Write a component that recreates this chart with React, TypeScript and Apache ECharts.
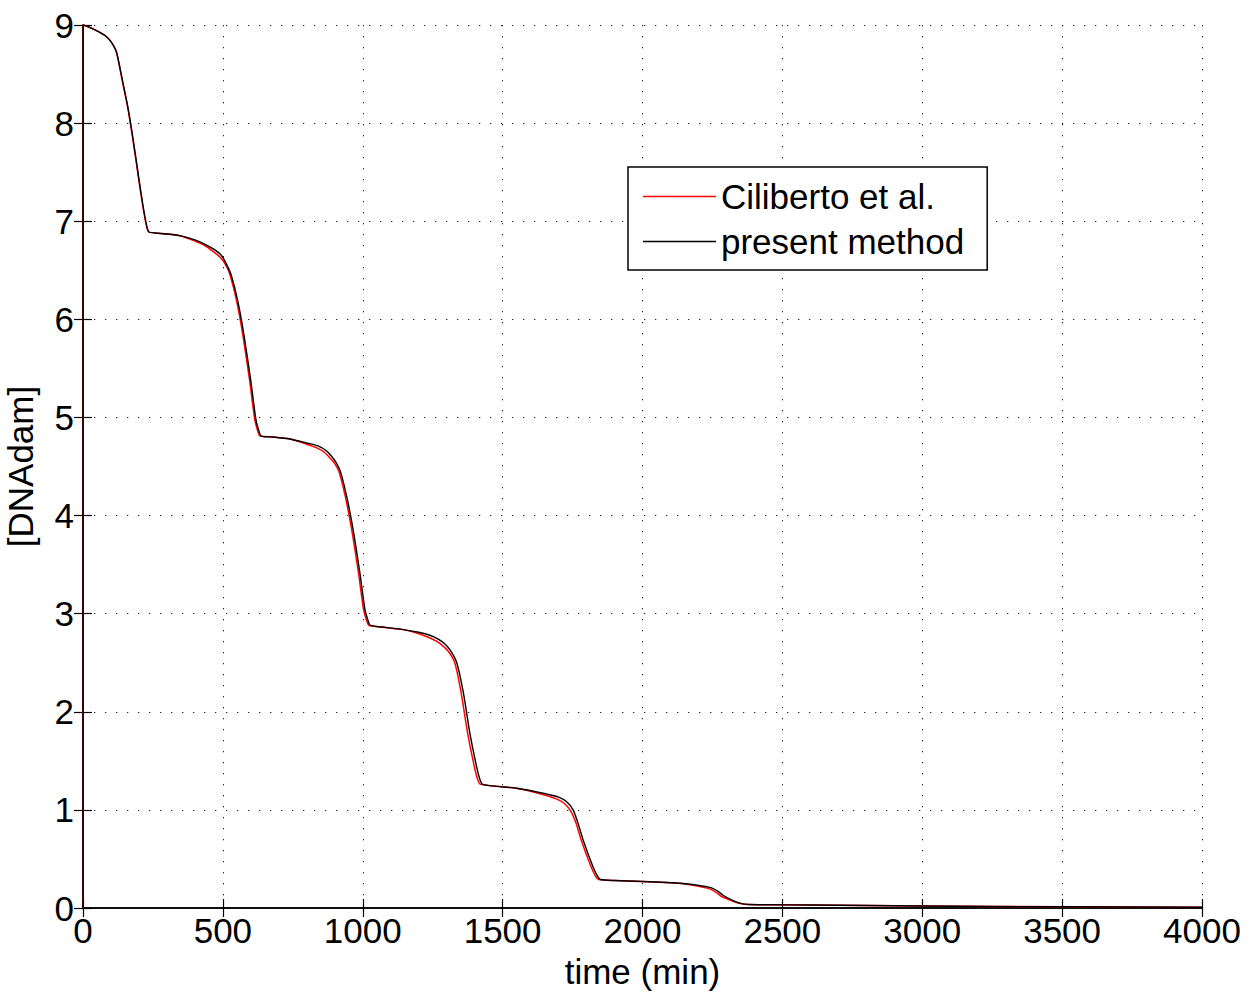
import React, { useEffect, useRef } from "react";
import * as echarts from "echarts";

const xTicks = [0, 500, 1000, 1500, 2000, 2500, 3000, 3500, 4000];
const yTicks = [0, 1, 2, 3, 4, 5, 6, 7, 8, 9];

const presentTime = [0, 1, 20, 50, 80, 100, 120, 140, 160, 180, 200, 215, 228, 236, 260, 300, 350, 400, 440, 470, 495, 515, 530, 553, 576, 600, 618, 630, 637, 680, 740, 800, 840, 870, 890, 905, 920, 943, 966, 990, 1008, 1020, 1027, 1080, 1140, 1200, 1240, 1270, 1290, 1312, 1336, 1360, 1383, 1407, 1420, 1429, 1480, 1550, 1645, 1700, 1730, 1752, 1770, 1788, 1823, 1840, 1850, 1900, 2000, 2145, 2241, 2270, 2288, 2320, 2348, 2380, 2456, 2600, 3000, 3500, 4000];
const presentValue = [0, 9, 8.98, 8.94, 8.89, 8.83, 8.72, 8.45, 8.17, 7.82, 7.43, 7.15, 6.95, 6.89, 6.88, 6.87, 6.85, 6.81, 6.76, 6.71, 6.65, 6.55, 6.45, 6.19, 5.83, 5.37, 4.98, 4.85, 4.81, 4.8, 4.78, 4.74, 4.71, 4.66, 4.6, 4.54, 4.45, 4.19, 3.85, 3.41, 3.04, 2.92, 2.88, 2.86, 2.84, 2.81, 2.78, 2.74, 2.7, 2.63, 2.5, 2.19, 1.78, 1.44, 1.3, 1.26, 1.24, 1.22, 1.17, 1.13, 1.08, 1.0, 0.86, 0.69, 0.42, 0.32, 0.29, 0.28, 0.27, 0.25, 0.21, 0.17, 0.13, 0.08, 0.05, 0.035, 0.033, 0.03, 0.02, 0.012, 0.008];

const cilibertoTime = [0, 1, 20, 50, 80, 100, 120, 139, 159, 179, 199, 214, 227, 235, 260, 300, 350, 398, 437, 466, 491, 511, 526, 549, 572, 596, 614, 626, 633, 680, 740, 797, 836, 865, 885, 900, 915, 938, 961, 985, 1003, 1015, 1022, 1080, 1140, 1196, 1234, 1263, 1283, 1305, 1329, 1352, 1375, 1399, 1412, 1421, 1480, 1550, 1640, 1694, 1723, 1745, 1763, 1781, 1816, 1833, 1843, 1900, 2000, 2140, 2235, 2263, 2281, 2313, 2341, 2375, 2456, 2600, 3000, 3500, 4000];
const cilibertoValue = [0, 9, 8.98, 8.94, 8.89, 8.83, 8.72, 8.45, 8.17, 7.82, 7.43, 7.15, 6.95, 6.89, 6.88, 6.87, 6.85, 6.8, 6.75, 6.69, 6.63, 6.55, 6.45, 6.19, 5.83, 5.37, 4.98, 4.85, 4.81, 4.8, 4.78, 4.73, 4.69, 4.64, 4.58, 4.53, 4.45, 4.19, 3.85, 3.41, 3.04, 2.92, 2.88, 2.86, 2.84, 2.8, 2.76, 2.72, 2.68, 2.62, 2.5, 2.19, 1.78, 1.44, 1.3, 1.26, 1.24, 1.22, 1.16, 1.11, 1.06, 0.98, 0.86, 0.69, 0.42, 0.32, 0.29, 0.28, 0.27, 0.25, 0.2, 0.16, 0.12, 0.08, 0.05, 0.035, 0.033, 0.03, 0.02, 0.012, 0.008];

const seriesNames = ["Ciliberto et al.", "present method"];

const FONT = "Liberation Sans, Arial, Helvetica, sans-serif";

export default function App() {
  const ref = useRef<HTMLDivElement>(null);
  useEffect(() => {
    document.body.style.margin = "0";
    const chart = echarts.init(ref.current!, null, { renderer: "svg" });
    const zip = (t: number[], v: number[]) => t.map((x, i) => [x, v[i]]);
    const axisLine = { show: true, lineStyle: { color: "#000", width: 1.5 } };
    const tick = { show: true, inside: true, length: 9, lineStyle: { color: "#000", width: 1.2 } };
    const grid = { show: true, lineStyle: { color: "#222", width: 1, type: [1.3, 9.7] } };
    const plain = (v: number) => String(v);
    chart.setOption({
      animation: false,
      backgroundColor: "#fff",
      textStyle: { fontFamily: FONT },
      grid: { left: 83, right: 47, top: 25, bottom: 96, containLabel: false, outerBoundsMode: "none" },
      legend: {
        orient: "vertical",
        left: 628,
        top: 167,
        padding: [12, 23, 11, 15],
        itemGap: 10,
        itemWidth: 73,
        itemHeight: 1.5,
        itemTextGap: 15,
        icon: "rect",
        backgroundColor: "#fff",
        borderColor: "#000",
        borderWidth: 1.5,
        textStyle: { fontSize: 35, color: "#000", fontFamily: FONT, lineHeight: 34 },
        data: seriesNames,
      },
      xAxis: [
        {
          type: "value",
          min: xTicks[0],
          max: xTicks[xTicks.length - 1],
          interval: 500,
          name: "time (min)",
          nameLocation: "middle",
          nameGap: 46,
          nameTextStyle: { fontSize: 35, color: "#000", fontFamily: FONT },
          axisLine,
          axisTick: tick,
          axisLabel: { fontSize: 35, color: "#000", margin: 5, fontFamily: FONT, formatter: plain },
          splitLine: grid,
        },
        {
          type: "value",
          position: "top",
          min: xTicks[0],
          max: xTicks[xTicks.length - 1],
          interval: 500,
          axisLine,
          axisTick: tick,
          axisLabel: { show: false },
          splitLine: { show: false },
        },
      ],
      yAxis: [
        {
          type: "value",
          min: yTicks[0],
          max: yTicks[yTicks.length - 1],
          interval: 1,
          name: "[DNAdam]",
          nameLocation: "middle",
          nameGap: 45,
          nameTextStyle: { fontSize: 35, color: "#000", fontFamily: FONT },
          axisLine,
          axisTick: tick,
          axisLabel: { fontSize: 35, color: "#000", margin: 9, fontFamily: FONT, formatter: plain },
          splitLine: grid,
        },
        {
          type: "value",
          position: "right",
          min: yTicks[0],
          max: yTicks[yTicks.length - 1],
          interval: 1,
          axisLine,
          axisTick: tick,
          axisLabel: { show: false },
          splitLine: { show: false },
        },
      ],
      series: [
        {
          name: seriesNames[0],
          type: "line",
          data: zip(cilibertoTime, cilibertoValue),
          showSymbol: false,
          smooth: 0.2,
          color: "#ff0000",
          lineStyle: { color: "#ff0000", width: 1.5, join: "round" },
          z: 2,
        },
        {
          name: seriesNames[1],
          type: "line",
          data: zip(presentTime, presentValue),
          showSymbol: false,
          smooth: 0.2,
          color: "#000",
          lineStyle: { color: "#000", width: 1.4, join: "round" },
          z: 3,
        },
      ],
    });
    return () => chart.dispose();
  }, []);
  return <div ref={ref} style={{ width: 1249, height: 1004 }} />;
}
